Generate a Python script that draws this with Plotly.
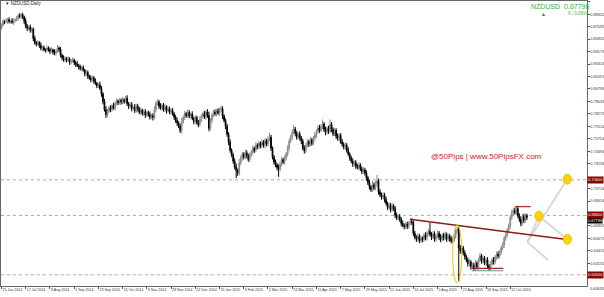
import plotly.graph_objects as go

# ---------------- data ----------------
date_labels = ["25 Jun 2014", "17 Jul 2014", "8 Aug 2014", "1 Sep 2014", "23 Sep 2014",
               "15 Oct 2014", "6 Nov 2014", "28 Nov 2014", "22 Dec 2014", "15 Jan 2015",
               "6 Feb 2015", "2 Mar 2015", "24 Mar 2015", "15 Apr 2015", "7 May 2015",
               "29 May 2015", "22 Jun 2015", "14 Jul 2015", "5 Aug 2015", "27 Aug 2015",
               "18 Sep 2015", "12 Oct 2015"]
label_bars = [0, 16, 32, 48, 64, 80, 96, 112, 128, 144, 160, 176, 192, 208, 224, 240,
              256, 272, 288, 304, 320, 336]

first_open = 0.8700
closes = [
    0.8724, 0.8762, 0.8758, 0.8765, 0.8781, 0.8760, 0.8768, 0.8752, 0.8770, 0.8779,
    0.8790, 0.8821, 0.8812, 0.8830, 0.8808, 0.8765, 0.8712, 0.8690, 0.8705, 0.8672,
    0.8685, 0.8590, 0.8545, 0.8532, 0.8550, 0.8520, 0.8490, 0.8498, 0.8475, 0.8470,
    0.8492, 0.8478, 0.8460, 0.8475, 0.8452, 0.8440, 0.8465, 0.8492, 0.8480, 0.8420,
    0.8395, 0.8372, 0.8390, 0.8368, 0.8382, 0.8350, 0.8360, 0.8372, 0.8345, 0.8330,
    0.8318, 0.8300, 0.8285, 0.8295, 0.8270, 0.8230, 0.8245, 0.8210, 0.8190, 0.8172,
    0.8192, 0.8160, 0.8135, 0.8110, 0.8122, 0.8085, 0.8030, 0.7950, 0.7870, 0.7820,
    0.7855, 0.7890, 0.7872, 0.7910, 0.7885, 0.7930, 0.7958, 0.7940, 0.7965, 0.7948,
    0.7970, 0.7955, 0.7985, 0.7930, 0.7905, 0.7920, 0.7880, 0.7895, 0.7860, 0.7905,
    0.7880, 0.7842, 0.7865, 0.7830, 0.7850, 0.7815, 0.7840, 0.7820, 0.7795, 0.7810,
    0.7790, 0.7870, 0.7935, 0.7950, 0.7905, 0.7885, 0.7915, 0.7870, 0.7898, 0.7860,
    0.7880, 0.7845, 0.7862, 0.7830, 0.7795, 0.7760, 0.7735, 0.7705, 0.7660, 0.7745,
    0.7790, 0.7830, 0.7810, 0.7842, 0.7805, 0.7825, 0.7780, 0.7752, 0.7790, 0.7740,
    0.7718, 0.7770, 0.7805, 0.7830, 0.7795, 0.7845, 0.7810, 0.7680, 0.7760, 0.7815,
    0.7845, 0.7830, 0.7860, 0.7835, 0.7870, 0.7880, 0.7805, 0.7760, 0.7700, 0.7620,
    0.7540, 0.7460, 0.7410, 0.7350, 0.7290, 0.7255, 0.7230, 0.7330, 0.7380, 0.7420,
    0.7390, 0.7435, 0.7405, 0.7365, 0.7410, 0.7440, 0.7480, 0.7462, 0.7510, 0.7495,
    0.7530, 0.7505, 0.7540, 0.7510, 0.7555, 0.7520, 0.7570, 0.7590, 0.7480, 0.7390,
    0.7340, 0.7310, 0.7285, 0.7270, 0.7320, 0.7365, 0.7340, 0.7380, 0.7420, 0.7480,
    0.7550, 0.7590, 0.7640, 0.7675, 0.7630, 0.7590, 0.7620, 0.7585, 0.7550, 0.7480,
    0.7455, 0.7510, 0.7545, 0.7520, 0.7565, 0.7530, 0.7580, 0.7615, 0.7650, 0.7685,
    0.7660, 0.7700, 0.7725, 0.7670, 0.7640, 0.7680, 0.7650, 0.7720, 0.7670, 0.7625,
    0.7660, 0.7600, 0.7580, 0.7610, 0.7545, 0.7520, 0.7490, 0.7510, 0.7460, 0.7420,
    0.7380, 0.7350, 0.7320, 0.7335, 0.7300, 0.7285, 0.7310, 0.7270, 0.7245, 0.7262,
    0.7230, 0.7180, 0.7130, 0.7090, 0.7060, 0.7110, 0.7080, 0.7120, 0.7150, 0.7040,
    0.7010, 0.6985, 0.7005, 0.6960, 0.6920, 0.6880, 0.6905, 0.6860, 0.6895, 0.6870,
    0.6800, 0.6775, 0.6790, 0.6760, 0.6720, 0.6700, 0.6685, 0.6710, 0.6690, 0.6722,
    0.6740, 0.6730, 0.6620, 0.6580, 0.6560, 0.6590, 0.6545, 0.6570, 0.6555, 0.6600,
    0.6575, 0.6620, 0.6640, 0.6610, 0.6580, 0.6615, 0.6560, 0.6590, 0.6620, 0.6580,
    0.6555, 0.6600, 0.6575, 0.6610, 0.6560, 0.6590, 0.6565, 0.6540, 0.6560, 0.6590,
    0.6640, 0.6660, 0.6470, 0.6440, 0.6470, 0.6420, 0.6385, 0.6350, 0.6310, 0.6330,
    0.6280, 0.6300, 0.6265, 0.6320, 0.6280, 0.6350, 0.6390, 0.6340, 0.6370, 0.6320,
    0.6350, 0.6290, 0.6270, 0.6310, 0.6350, 0.6330, 0.6380, 0.6410, 0.6390, 0.6430,
    0.6470, 0.6500, 0.6570, 0.6600, 0.6650, 0.6690, 0.6780, 0.6830, 0.6850, 0.6830,
    0.6870, 0.6800, 0.6760, 0.6720, 0.6790, 0.6750, 0.6800, 0.67796,
]
upper_wick_pips = [
    18, 25, 12, 30, 15, 22, 10, 28, 20, 14, 26, 18, 24, 15, 20, 12, 30, 22, 16, 25,
    20, 15, 28, 18, 24, 12, 30, 16, 22, 14, 26, 18, 20, 25, 12, 28, 15, 30, 18, 22,
    16, 24, 20, 12, 28, 18, 22, 26, 14, 20, 30, 16, 24, 18, 22, 12, 28, 20, 15, 25,
    22, 18, 26, 14, 20, 30, 24, 16, 28, 35, 22, 18, 25, 15, 30, 20, 26, 14, 22, 18,
    28, 16, 24, 30, 18, 22, 26, 14, 32, 20, 24, 18, 28, 15, 22, 26, 16, 20, 30, 18,
    24, 35, 20, 26, 18, 30, 14, 22, 28, 16, 24, 20, 18, 26, 15, 22, 30, 18, 24, 40,
    20, 26, 18, 30, 22, 16, 28, 20, 24, 18, 26, 35, 22, 18, 28, 20, 30, 40, 24, 18,
    22, 28, 16, 26, 20, 30, 24, 18, 20, 26, 22, 30, 18, 24, 28, 35, 20, 40, 26, 22,
    18, 30, 24, 20, 26, 22, 28, 16, 30, 20, 24, 18, 28, 22, 26, 20, 30, 45, 24, 18,
    22, 26, 20, 30, 24, 28, 18, 26, 22, 30, 28, 24, 32, 40, 20, 26, 22, 30, 18, 24,
    28, 22, 26, 20, 30, 18, 24, 28, 22, 26, 30, 24, 45, 20, 26, 22, 28, 50, 24, 20,
    26, 22, 30, 18, 24, 28, 20, 26, 22, 30, 18, 24, 28, 20, 26, 22, 30, 18, 24, 28,
    20, 26, 22, 30, 18, 40, 24, 28, 60, 22, 26, 20, 30, 24, 28, 18, 26, 22, 30, 20,
    24, 28, 18, 26, 22, 30, 20, 24, 28, 22, 26, 30, 18, 24, 20, 28, 22, 26, 18, 24,
    30, 22, 26, 84, 20, 28, 24, 18, 26, 22, 30, 20, 24, 28, 18, 26, 22, 30, 20, 24,
    28, 24, 20, 30, 26, 22, 28, 18, 24, 30, 20, 26, 22, 28, 18, 24, 30, 22, 26, 20,
    24, 28, 20, 26, 22, 30, 18, 24, 28, 22, 26, 30, 24, 28, 22, 30, 26, 28, 24, 30,
    26, 28, 22, 30, 24, 28, 20, 18,
]
lower_wick_pips = [
    20, 15, 24, 12, 28, 18, 22, 14, 26, 20, 16, 24, 18, 28, 22, 30, 20, 26, 18, 24,
    22, 28, 18, 24, 16, 26, 20, 30, 14, 24, 18, 22, 28, 16, 26, 20, 24, 18, 30, 22,
    26, 18, 24, 20, 16, 28, 22, 14, 26, 30, 18, 24, 20, 28, 16, 24, 22, 30, 18, 26,
    20, 28, 16, 24, 22, 18, 30, 26, 20, 35, 24, 18, 28, 22, 16, 26, 20, 24, 18, 28,
    22, 26, 18, 24, 30, 20, 28, 16, 24, 22, 30, 18, 26, 20, 24, 28, 16, 22, 26, 20,
    30, 18, 24, 22, 28, 16, 26, 20, 24, 30, 18, 22, 26, 20, 28, 24, 30, 22, 26, 30,
    18, 24, 22, 28, 20, 26, 16, 30, 22, 24, 28, 18, 26, 22, 20, 28, 24, 30, 22, 26,
    20, 24, 28, 18, 26, 22, 30, 20, 28, 24, 30, 26, 22, 28, 24, 77, 30, 26, 22, 28,
    24, 20, 28, 22, 26, 18, 24, 30, 20, 26, 22, 28, 18, 24, 30, 20, 26, 22, 28, 24,
    26, 22, 30, 80, 24, 28, 20, 26, 22, 24, 28, 20, 26, 22, 30, 24, 18, 26, 28, 22,
    30, 24, 20, 28, 22, 26, 18, 24, 30, 22, 26, 20, 28, 24, 30, 22, 26, 20, 28, 24,
    22, 28, 24, 30, 20, 26, 22, 28, 24, 18, 26, 22, 30, 24, 28, 20, 26, 22, 28, 24,
    26, 30, 22, 28, 24, 20, 26, 22, 28, 30, 24, 26, 22, 28, 20, 26, 24, 30, 22, 26,
    28, 22, 26, 24, 30, 20, 26, 22, 28, 24, 20, 26, 30, 22, 28, 24, 26, 20, 28, 22,
    26, 30, 22, 24, 28, 20, 26, 24, 22, 30, 26, 20, 28, 24, 26, 22, 30, 24, 20, 28,
    24, 22, 340, 28, 26, 24, 30, 22, 28, 26, 30, 24, 28, 22, 26, 30, 24, 28, 26, 22,
    30, 24, 28, 26, 22, 28, 24, 30, 26, 22, 28, 24, 30, 26, 22, 28, 24, 26, 30, 22,
    28, 24, 26, 30, 22, 28, 24, 26,
]
# visible price-scale labels (the ones hidden behind the level tags are left out)
price_ticks = [0.89612, 0.88352, 0.87092, 0.85832, 0.84573, 0.83313, 0.82053, 0.80793,
               0.79533, 0.78273, 0.77014, 0.75754, 0.74494, 0.73234, 0.70714,
               0.69454, 0.66935, 0.65675, 0.64415, 0.63155]
bottom_price_label = 0.60635
level_prices = [0.7160, 0.6800, 0.6200]
current_price = 0.67796
change_text = "6 | 0.09%"
symbol = "NZDUSD"

# ---------------- build OHLC ----------------
bars = list(range(len(closes)))
opens = [first_open] + closes[:-1]
highs = [max(o, c) + u / 10000 for o, c, u in zip(opens, closes, upper_wick_pips)]
lows = [min(o, c) - l / 10000 for o, c, l in zip(opens, closes, lower_wick_pips)]

fig = go.Figure()
fig.add_trace(go.Candlestick(
    x=bars, open=opens, high=highs, low=lows, close=closes,
    increasing=dict(line=dict(color="#8a8a8a", width=1), fillcolor="#b4b4b4"),
    decreasing=dict(line=dict(color="#000000", width=1), fillcolor="#000000"),
    whiskerwidth=0, showlegend=False, hoverinfo="skip",
))

DARKRED = "#8b1a1a"
shapes = []
for p in level_prices:
    shapes.append(dict(type="line", xref="paper", yref="y", x0=0, x1=1, y0=p, y1=p,
                       line=dict(color="#d07a7a", width=0.8, dash="dot"), layer="below"))
shapes.append(dict(type="line", xref="x", yref="y", x0=269.8, y0=0.6761, x1=372.2, y1=0.6559,
                   line=dict(color=DARKRED, width=1.5)))
shapes.append(dict(type="line", xref="x", yref="y", x0=339.2, y0=0.6889, x1=349.5, y1=0.6889,
                   line=dict(color="#b22222", width=1.2)))
shapes.append(dict(type="line", xref="x", yref="y", x0=310.6, y0=0.6265, x1=331.4, y1=0.6265,
                   line=dict(color="#b22222", width=1.2)))
shapes.append(dict(type="line", xref="x", yref="y", x0=310.6, y0=0.6241, x1=331.4, y1=0.6241,
                   line=dict(color="#4aa3a0", width=1.2)))
for (xa, ya, xb, yb) in [(347.3, 0.6531, 373.7, 0.7167), (347.3, 0.6531, 361.0, 0.6349),
                         (355.0, 0.6793, 347.3, 0.6531), (355.0, 0.6793, 373.7, 0.6559)]:
    shapes.append(dict(type="line", xref="x", yref="y", x0=xa, y0=ya, x1=xb, y1=yb,
                       line=dict(color="rgba(205,205,205,0.75)", width=2), layer="below"))
shapes.append(dict(type="circle", xref="x", yref="y", x0=298.0, x1=304.0, y0=0.6117, y1=0.6704,
                   line=dict(color="#f2c200", width=1)))
for (cx, cy) in [(373.7, 0.7167), (355.0, 0.6793), (373.7, 0.6559)]:
    shapes.append(dict(type="circle", xref="x", yref="y", xsizemode="pixel", ysizemode="pixel",
                       xanchor=cx, yanchor=cy, x0=-4, x1=4, y0=-5, y1=5,
                       fillcolor="#ffd400", line=dict(color="#f0c000", width=1)))

TAGFONT = dict(family="Arial", size=3.9, color="white")
annotations = []
annotations.append(dict(xref="paper", yref="y", x=1.0, y=current_price - 0.0035, xanchor="left",
                        yanchor="middle", text="%.5f" % current_price, showarrow=False,
                        bgcolor="#000000", font=TAGFONT, borderpad=0))
for p in level_prices:
    annotations.append(dict(xref="paper", yref="y", x=1.0, y=p, xanchor="left", yanchor="middle",
                            text="%.5f" % p, showarrow=False, bgcolor="#8b0000",
                            font=TAGFONT, borderpad=0.3))
annotations.append(dict(xref="paper", yref="paper", x=1.001, y=-0.008, xanchor="left", yanchor="middle",
                        text="%.5f" % bottom_price_label, showarrow=False,
                        font=dict(family="Arial", size=3.9, color="#333")))
annotations.append(dict(xref="paper", yref="paper", x=0.004, y=0.99, xanchor="left", yanchor="middle",
                        text="▼ " + symbol + ",Daily", showarrow=False,
                        font=dict(family="Arial", size=4.5, color="#222")))
annotations.append(dict(xref="paper", yref="paper", x=1.007, y=0.982, xanchor="right", yanchor="middle",
                        text=symbol + "  %.5f" % current_price, showarrow=False,
                        font=dict(family="Arial", size=7, color="#3cb043")))
annotations.append(dict(xref="paper", yref="paper", x=1.003, y=0.957, xanchor="right", yanchor="middle",
                        text=change_text, showarrow=False,
                        font=dict(family="Arial", size=4.5, color="#3cb043")))
annotations.append(dict(xref="paper", yref="paper", x=0.925, y=0.955, xanchor="center", yanchor="middle",
                        text="▲", showarrow=False,
                        font=dict(family="Arial", size=5, color="#1f8a1f")))
annotations.append(dict(xref="x", yref="y", x=320.0, y=0.7395, xanchor="center", yanchor="middle",
                        text="@50Pips | www.50PipsFX.com", showarrow=False,
                        font=dict(family="Arial", size=8, color="#d42020")))

fig.update_layout(
    width=604, height=297,
    margin=dict(l=1, r=17, t=1, b=11, autoexpand=False),
    paper_bgcolor="white", plot_bgcolor="white",
    shapes=shapes, annotations=annotations,
    xaxis=dict(range=[-0.33, 386.7], tickmode="array", tickvals=label_bars, ticktext=date_labels,
               ticks="outside", ticklen=2, tickcolor="#555", showgrid=False, zeroline=False,
               showline=True, mirror=True, linecolor="#666", linewidth=1, tickangle=0,
               automargin=False, ticklabelposition="outside right",
               tickfont=dict(family="Arial", size=3.6, color="#333"),
               rangeslider=dict(visible=False), fixedrange=True),
    yaxis=dict(range=[0.60866, 0.89683], side="right", tickmode="array", tickvals=price_ticks,
               ticktext=["%.5f" % v for v in price_ticks], ticks="outside", ticklen=1.5,
               tickcolor="#555", showgrid=False, zeroline=False, showline=True, mirror=True,
               linecolor="#666", linewidth=1, automargin=False,
               tickfont=dict(family="Arial", size=3.9, color="#333"), fixedrange=True),
)

fig.write_html("out.html")
